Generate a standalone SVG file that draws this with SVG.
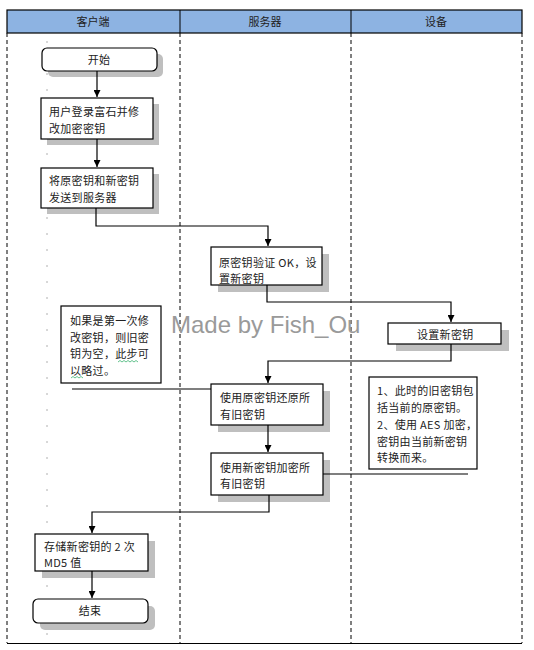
<svg xmlns="http://www.w3.org/2000/svg" width="534" height="650" viewBox="0 0 534 650">
<defs>
<marker id="arr" viewBox="0 0 10 10" refX="10" refY="5" markerWidth="7" markerHeight="7" markerUnits="userSpaceOnUse" orient="auto">
<path d="M0,0 L10,5 L0,10 z" fill="#000"/>
</marker>
</defs>
<style>
.t{font-family:"Noto Sans CJK SC","Liberation Sans",sans-serif;font-size:11px;fill:#222;letter-spacing:0.3px}
.hd{font-family:"Noto Sans CJK SC","Liberation Sans",sans-serif;font-size:11px;fill:#222;text-anchor:middle}
.box{fill:#fff;stroke:#000;stroke-width:1.2}
.sh{fill:#bfbfbf}
.lane{stroke:#000;stroke-width:1;stroke-dasharray:4 3}
.c{fill:none;stroke:#000;stroke-width:1.2}
.mid{text-anchor:middle}
</style>
<rect width="534" height="650" fill="#fff"/>
<g id="lanes">
<rect x="7" y="10" width="515" height="23" fill="#8db3e2" stroke="#000" stroke-width="1.2"/>
<line x1="180" y1="10" x2="180" y2="33" stroke="#000" stroke-width="1"/>
<line x1="351" y1="10" x2="351" y2="33" stroke="#000" stroke-width="1"/>
<text class="hd" x="93" y="26">客户端</text>
<text class="hd" x="265" y="26">服务器</text>
<text class="hd" x="436" y="26">设备</text>
<line class="lane" x1="7" y1="33" x2="7" y2="643"/>
<line class="lane" x1="180" y1="33" x2="180" y2="643"/>
<line class="lane" x1="351" y1="33" x2="351" y2="643"/>
<line class="lane" x1="522" y1="33" x2="522" y2="643"/>
<line x1="7" y1="643.5" x2="522" y2="643.5" stroke="#000" stroke-width="1.2"/>
<line x1="47" y1="41" x2="47" y2="640" stroke="#b0b0b0" stroke-width="1" stroke-dasharray="2 14"/>
</g>
<text x="171" y="333" font-family="Liberation Sans, Arial, sans-serif" font-size="24" fill="#9a9a9a">Made by Fish_Ou</text>
<g id="n-start">
<rect class="sh" x="48" y="54" width="115" height="23" rx="5"/>
<rect class="box" x="42" y="48" width="115" height="23" rx="5"/>
<text class="t mid" x="99" y="64">开始</text>
</g>
<g id="n-login">
<rect class="sh" x="47" y="104" width="112" height="41"/>
<rect class="box" x="41" y="98" width="112" height="41"/>
<text class="t" x="49" y="116">用户登录富石并修</text>
<text class="t" x="49" y="133">改加密密钥</text>
</g>
<g id="n-send">
<rect class="sh" x="47" y="174" width="112" height="40"/>
<rect class="box" x="41" y="168" width="112" height="40"/>
<text class="t" x="49" y="185">将原密钥和新密钥</text>
<text class="t" x="49" y="202">发送到服务器</text>
</g>
<g id="n-verify">
<rect class="sh" x="218" y="254" width="111" height="38"/>
<rect class="box" x="211" y="247" width="111" height="38"/>
<text class="t" x="219" y="267">原密钥验证 OK，设</text>
<text class="t" x="219" y="283">置新密钥</text>
</g>
<g id="n-set">
<rect class="sh" x="396" y="330" width="113" height="21"/>
<rect class="box" x="388" y="323" width="113" height="21"/>
<text class="t" x="417" y="339">设置新密钥</text>
</g>
<g id="n-note-right">
<rect class="box" x="369" y="377" width="108" height="92"/>
<text class="t" x="377" y="395">1、此时的旧密钥包</text>
<text class="t" x="377" y="412">括当前的原密钥。</text>
<text class="t" x="377" y="429">2、使用 AES 加密，</text>
<text class="t" x="377" y="446">密钥由当前新密钥</text>
<text class="t" x="377" y="462">转换而来。</text>
</g>
<g id="n-note-left">
<rect class="box" x="61" y="306" width="100" height="77"/>
<text class="t" x="70" y="325">如果是第一次修</text>
<text class="t" x="70" y="342">改密钥，则旧密</text>
<text class="t" x="70" y="358">钥为空，此步可</text>
<text class="t" x="70" y="375">以略过。</text>
<path d="M118,362 l2,-1.5 l2,1.5 l2,-1.5 l2,1.5 l2,-1.5 l2,1.5 l2,-1.5 l2,1.5 l2,-1.5 l2,1.5 M71,378 l2,-1.5 l2,1.5 l2,-1.5 l2,1.5 l2,-1.5 l2,1.5" fill="none" stroke="#3cb371" stroke-width="0.8"/>
</g>
<g id="n-restore">
<rect class="sh" x="218" y="391" width="112" height="41"/>
<rect class="box" x="211" y="384" width="112" height="41"/>
<text class="t" x="220" y="402">使用原密钥还原所</text>
<text class="t" x="220" y="419">有旧密钥</text>
</g>
<g id="n-encrypt">
<rect class="sh" x="218" y="460" width="112" height="42"/>
<rect class="box" x="211" y="453" width="112" height="42"/>
<text class="t" x="220" y="472">使用新密钥加密所</text>
<text class="t" x="220" y="488">有旧密钥</text>
</g>
<g id="n-store">
<rect class="sh" x="42" y="541" width="113" height="37"/>
<rect class="box" x="35" y="534" width="113" height="37"/>
<text class="t" x="44" y="551">存储新密钥的 2 次</text>
<text class="t" x="44" y="567">MD5 值</text>
</g>
<g id="n-end">
<rect class="sh" x="40" y="606" width="115" height="24" rx="5"/>
<rect class="box" x="33" y="599" width="115" height="24" rx="5"/>
<text class="t mid" x="90" y="615">结束</text>
</g>
<g id="connectors">
<path class="c" d="M97,71 V97" marker-end="url(#arr)"/>
<path class="c" d="M97,139 V167" marker-end="url(#arr)"/>
<path class="c" d="M96,208 V226 H268 V246" marker-end="url(#arr)"/>
<path class="c" d="M267,285 V302 H451 V322" marker-end="url(#arr)"/>
<path class="c" d="M451,344 V361 H268 V383" marker-end="url(#arr)"/>
<path class="c" d="M268,425 V452" marker-end="url(#arr)"/>
<path class="c" d="M269,495 V512 H92 V533" marker-end="url(#arr)"/>
<path class="c" d="M92,571 V598" marker-end="url(#arr)"/>
<path class="c" d="M72,389 H211"/>
<path class="c" d="M323,474 H468"/>
</g>
</svg>
